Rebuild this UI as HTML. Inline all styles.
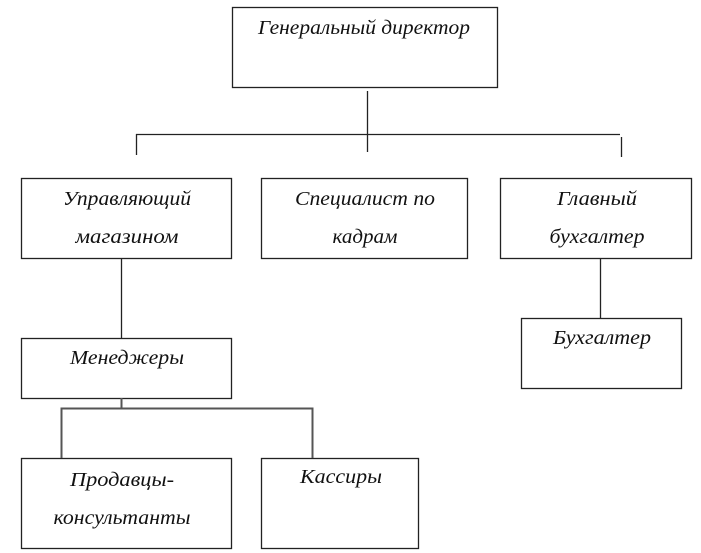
<!DOCTYPE html>
<html><head><meta charset="utf-8"><style>
html,body{margin:0;padding:0;background:#fff;width:701px;height:553px;overflow:hidden}
svg text{font-family:"Liberation Serif","DejaVu Serif",serif;font-style:italic;font-size:20px;fill:#111;text-anchor:middle}
</style></head><body>
<svg width="701" height="553" viewBox="0 0 701 553" xmlns="http://www.w3.org/2000/svg">
<g fill="none" stroke="#222" stroke-width="1.3">
<rect x="232.5" y="7.5" width="265" height="80"/>
<rect x="21.5" y="178.5" width="210" height="80"/>
<rect x="261.5" y="178.5" width="206" height="80"/>
<rect x="500.5" y="178.5" width="191" height="80"/>
<rect x="21.5" y="338.5" width="210" height="60"/>
<rect x="521.5" y="318.5" width="160" height="70"/>
<rect x="21.5" y="458.5" width="210" height="90"/>
<rect x="261.5" y="458.5" width="157" height="90"/>
<line x1="367.5" y1="91" x2="367.5" y2="152"/>
<line x1="136" y1="134.5" x2="620" y2="134.5"/>
<line x1="136.5" y1="134" x2="136.5" y2="155"/>
<line x1="621.5" y1="137" x2="621.5" y2="157"/>
<line x1="121.5" y1="258" x2="121.5" y2="338"/>
<line x1="600.5" y1="258" x2="600.5" y2="318"/>
</g>
<g fill="none" stroke="#555" stroke-width="2">
<line x1="121.5" y1="398" x2="121.5" y2="408"/>
<polyline points="61.5,458 61.5,408.5 312.5,408.5 312.5,458"/>
</g>
<text x="364" y="34" textLength="212" lengthAdjust="spacingAndGlyphs">Генеральный директор</text>
<text x="127" y="205" textLength="128" lengthAdjust="spacingAndGlyphs">Управляющий</text>
<text x="127" y="243" textLength="103" lengthAdjust="spacingAndGlyphs">магазином</text>
<text x="365" y="205" textLength="140" lengthAdjust="spacingAndGlyphs">Специалист по</text>
<text x="365" y="243" textLength="65" lengthAdjust="spacingAndGlyphs">кадрам</text>
<text x="597" y="205" textLength="80" lengthAdjust="spacingAndGlyphs">Главный</text>
<text x="597" y="243" textLength="95" lengthAdjust="spacingAndGlyphs">бухгалтер</text>
<text x="127" y="364" textLength="114" lengthAdjust="spacingAndGlyphs">Менеджеры</text>
<text x="602" y="344" textLength="98" lengthAdjust="spacingAndGlyphs">Бухгалтер</text>
<text x="122" y="486" textLength="104" lengthAdjust="spacingAndGlyphs">Продавцы-</text>
<text x="122" y="524" textLength="137" lengthAdjust="spacingAndGlyphs">консультанты</text>
<text x="341" y="483" textLength="82" lengthAdjust="spacingAndGlyphs">Кассиры</text>
</svg>
</body></html>
